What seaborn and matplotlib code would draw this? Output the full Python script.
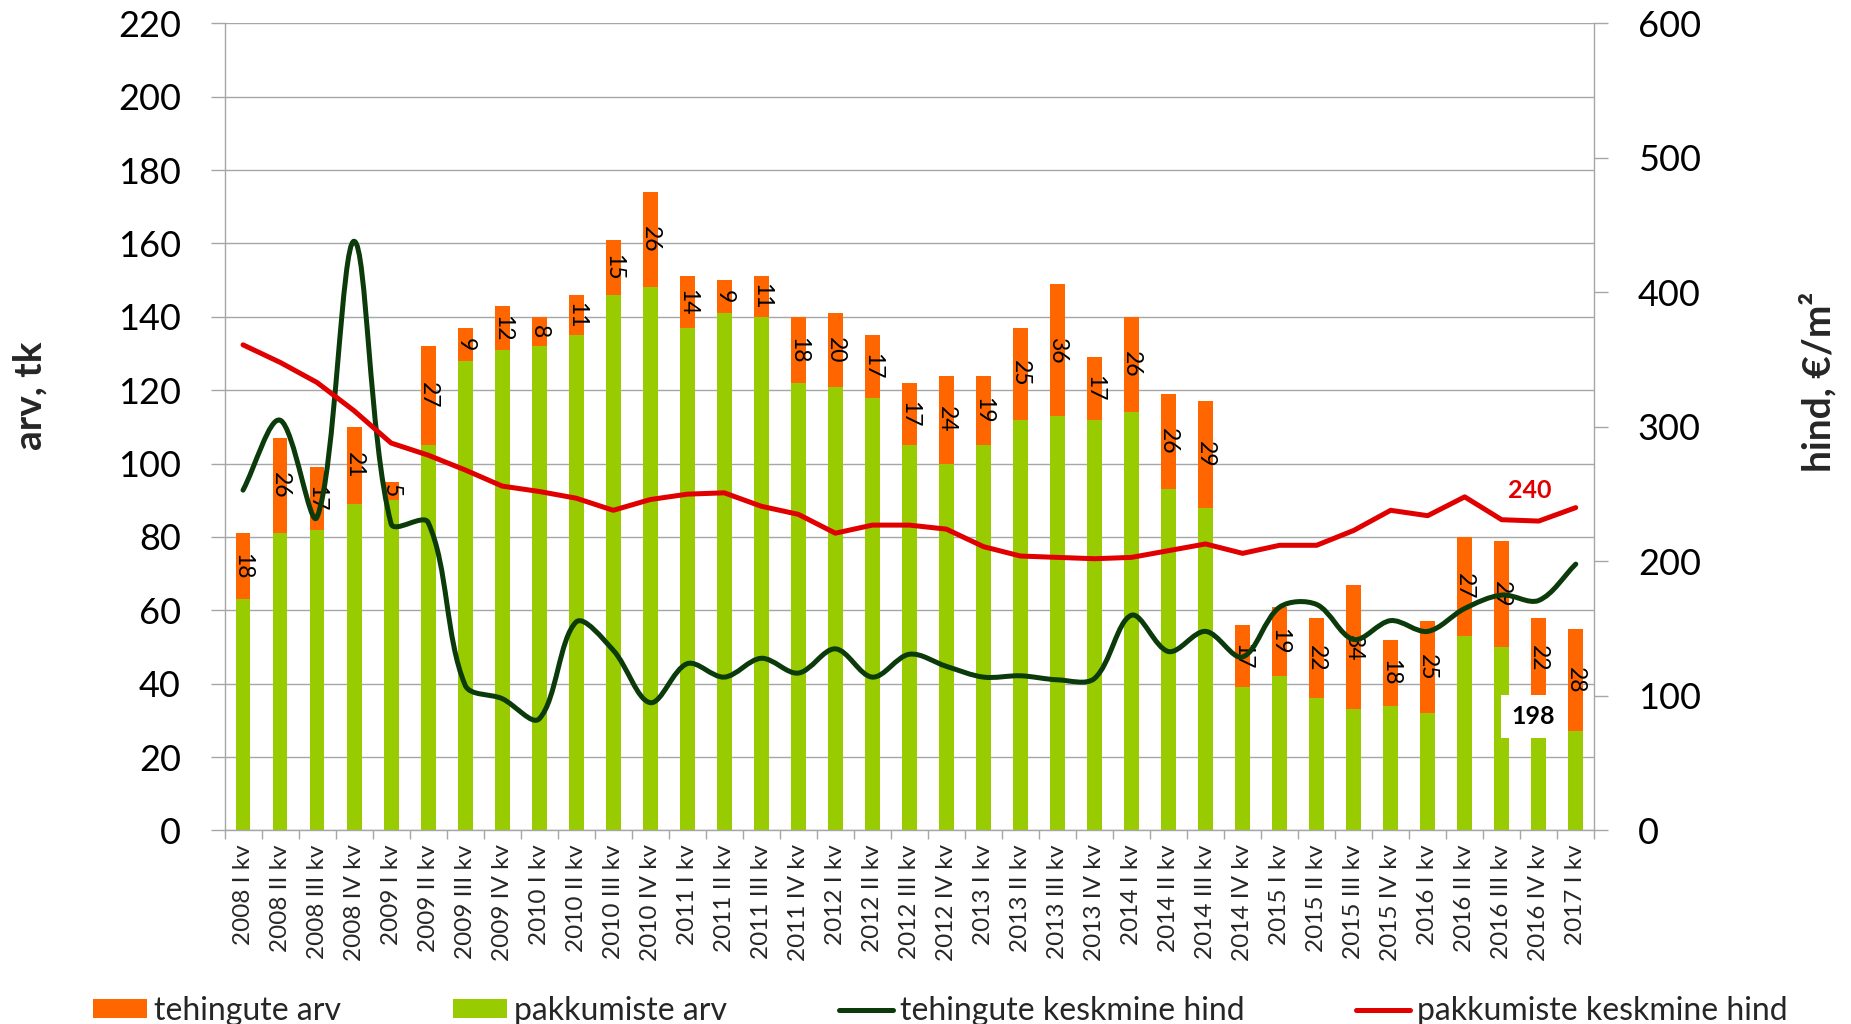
import numpy as np
import matplotlib
matplotlib.use("Agg")
import matplotlib.pyplot as plt
from matplotlib.path import Path
from matplotlib.patches import PathPatch, Patch
from matplotlib.lines import Line2D
import seaborn as sns

quarters = [
    "2008 I kv", "2008 II kv", "2008 III kv", "2008 IV kv",
    "2009 I kv", "2009 II kv", "2009 III kv", "2009 IV kv",
    "2010 I kv", "2010 II kv", "2010 III kv", "2010 IV kv",
    "2011 I kv", "2011 II kv", "2011 III kv", "2011 IV kv",
    "2012 I kv", "2012 II kv", "2012 III kv", "2012 IV kv",
    "2013 I kv", "2013 II kv", "2013 III kv", "2013 IV kv",
    "2014 I kv", "2014 II kv", "2014 III kv", "2014 IV kv",
    "2015 I kv", "2015 II kv", "2015 III kv", "2015 IV kv",
    "2016 I kv", "2016 II kv", "2016 III kv", "2016 IV kv",
    "2017 I kv",
]
# pakkumiste arv (green, bottom part of the bar)
offers = [63, 81, 82, 89, 90, 105, 128, 131, 132, 135, 146, 148, 137, 141, 140,
          122, 121, 118, 105, 100, 105, 112, 113, 112, 114, 93, 88, 39, 42, 36,
          33, 34, 32, 53, 50, 36, 27]
# tehingute arv (orange, stacked on top)
deals = [18, 26, 17, 21, 5, 27, 9, 12, 8, 11, 15, 26, 14, 9, 11, 18, 20, 17, 17,
         24, 19, 25, 36, 17, 26, 26, 29, 17, 19, 22, 34, 18, 25, 27, 29, 22, 28]
# tehingute keskmine hind, EUR/m2
deal_price = [253, 305, 233, 438, 228, 229, 108, 98, 83, 155, 134, 95, 124, 114,
              128, 117, 135, 114, 131, 122, 114, 115, 112, 113, 160, 133, 148,
              129, 166, 168, 142, 156, 148, 165, 175, 171, 198]
# pakkumiste keskmine hind, EUR/m2
offer_price = [361, 348, 333, 312, 288, 279, 268, 256, 252, 247, 238, 246, 250,
               251, 241, 235, 221, 227, 227, 224, 211, 204, 203, 202, 203, 208,
               213, 206, 212, 212, 223, 238, 234, 248, 231, 230, 240]

ORANGE = "#FF6600"
GREEN = "#99CC00"
DARK = "#0B3A0B"
RED = "#E00000"
GRID = "#a6a6a6"

sns.set_theme(style="white")
plt.rcParams["font.family"] = ["Lato", "DejaVu Sans"]

n = len(quarters)
totals = [o + d for o, d in zip(offers, deals)]

fig = plt.figure(figsize=(18.51, 10.24), dpi=100)
ax = fig.add_axes([0.1213, 0.189, 0.7400, 0.7882])

sns.barplot(x=quarters, y=totals, color=ORANGE, saturation=1, width=0.4,
            linewidth=0, ax=ax)
sns.barplot(x=quarters, y=offers, color=GREEN, saturation=1, width=0.4,
            linewidth=0, ax=ax)

for i, (o, d) in enumerate(zip(offers, deals)):
    ax.text(i, o + d / 2, str(d), rotation=270, ha="center", va="center",
            fontsize=16.5, color="black")

ax.set_xlim(-0.5, n - 0.5)
ax.set_ylim(0, 220)
ax.set_yticks(range(0, 221, 20))
ax.set_xlabel("")
ax.set_ylabel("")
ax.yaxis.grid(True, color=GRID, lw=1.0)
ax.set_axisbelow(True)
ax.tick_params(axis="y", left=True, length=10.4, width=1, color=GRID, pad=21,
               labelsize=26, labelcolor="black")
ax.set_xticks(range(n))
ax.set_xticklabels(quarters)
ax.tick_params(axis="x", which="major", length=0, pad=10, labelsize=17.5,
               labelrotation=90)
ax.set_xticks(np.arange(-0.5, n, 1), minor=True)
ax.tick_params(axis="x", which="minor", bottom=True, length=6.3, width=1,
               color=GRID)
for s in ["left", "bottom"]:
    ax.spines[s].set_color(GRID)
    ax.spines[s].set_linewidth(1)
ax.spines["top"].set_visible(False)
ax.spines["right"].set_visible(False)

ax2 = ax.twinx()
ax2.set_ylim(0, 600)
ax2.set_yticks(range(0, 601, 100))
ax2.grid(False)
xs = np.arange(n)
sns.lineplot(x=xs, y=offer_price, color=RED, lw=3.6, ax=ax2)

# smoothed line in the spirit of the spreadsheet "smoothed line":
# Bezier handles scaled by the neighbouring segment lengths on screen
tr = ax2.transData
pts = tr.transform(np.column_stack([xs, deal_price]).astype(float))
ext = np.vstack([pts[0], pts, pts[-1]])
verts = [pts[0]]
codes = [Path.MOVETO]
for k in range(n - 1):
    p0, p1, p2, p3 = ext[k], ext[k + 1], ext[k + 2], ext[k + 3]
    d01 = np.hypot(*(p1 - p0))
    d12 = np.hypot(*(p2 - p1))
    d23 = np.hypot(*(p3 - p2))
    f1 = d12 / (d01 + d12) / 3 if d01 + d12 > 0 else 0
    f2 = d12 / (d12 + d23) / 3 if d12 + d23 > 0 else 0
    c1 = p1 + (p2 - p0) * f1
    c2 = p2 - (p3 - p1) * f2
    verts += [c1, c2, p2]
    codes += [Path.CURVE4] * 3
verts = tr.inverted().transform(np.array(verts))
ax2.add_patch(PathPatch(Path(verts, codes), facecolor="none", edgecolor=DARK,
                        lw=3.6, capstyle="round", joinstyle="round"))

ax2.text(n - 1 - 1.23, offer_price[-1] + 13, f"{offer_price[-1]}", color=RED,
         fontsize=18, fontweight="bold", ha="center", va="center")
ax2.text(n - 1 - 1.15, deal_price[-1] - 113, f"{deal_price[-1]}", color="black",
         fontsize=18, fontweight="bold", ha="center", va="center",
         bbox=dict(boxstyle="square,pad=0.4", facecolor="white",
                   edgecolor="none"))

ax2.set_ylabel("")
ax2.tick_params(axis="y", right=True, length=10.4, width=1, color=GRID, pad=21,
                labelsize=26, labelcolor="black")
for s in ["left", "bottom", "top"]:
    ax2.spines[s].set_visible(False)
ax2.spines["right"].set_color(GRID)
ax2.spines["right"].set_linewidth(1)

fig.text(0.016, 0.614, "arv, tk", rotation=90, ha="center", va="center",
         fontsize=28, fontweight="bold")
fig.text(0.982, 0.627, "hind, €/m²", rotation=90, ha="center", va="center",
         fontsize=28, fontweight="bold")

handles = [
    Patch(facecolor=ORANGE, edgecolor="none"),
    Patch(facecolor=GREEN, edgecolor="none"),
    Line2D([], [], color=DARK, lw=3.6),
    Line2D([], [], color=RED, lw=3.6),
]
labels = ["tehingute arv", "pakkumiste arv", "tehingute keskmine hind",
          "pakkumiste keskmine hind"]
fig.legend(handles, labels, loc="lower left", bbox_to_anchor=(0.0502, -0.002),
           ncol=4, frameon=False, fontsize=23, handlelength=1.69,
           handleheight=0.53, handletextpad=0.22, columnspacing=3.5,
           borderpad=0, borderaxespad=0)

fig.savefig("out.png", dpi=100, facecolor="white")
